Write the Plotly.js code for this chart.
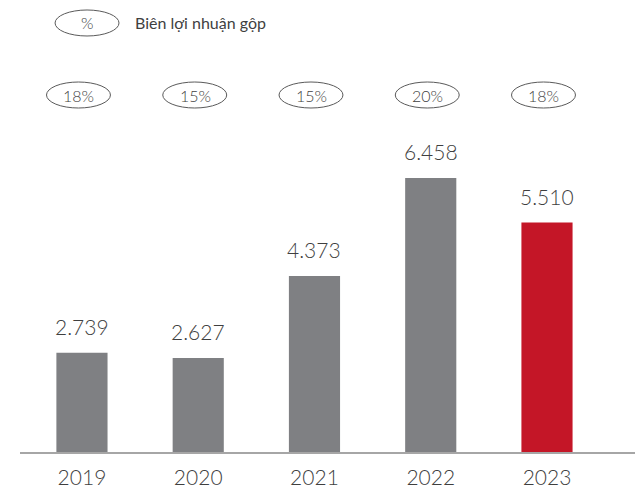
<!DOCTYPE html>
<html>
<head>
<meta charset="utf-8">
<script src="https://cdn.plot.ly/plotly-3.0.1.min.js"></script>
<style>
  html, body { margin: 0; padding: 0; background: #fff; }
  #chart { width: 635px; height: 489px; }
</style>
</head>
<body>
<div id="chart"></div>
<script>
// data
var years = ["2019", "2020", "2021", "2022", "2023"];
var grossProfit = [2739, 2627, 4373, 6458, 5510];
var valueLabels = ["2.739", "2.627", "4.373", "6.458", "5.510"];
var marginLabels = ["18%", "15%", "15%", "20%", "18%"];
var barColors = ["#7f8083", "#7f8083", "#7f8083", "#7f8083", "#c41627"];

var textColor = "#3f3f3f";
var font = "Lato, Open Sans, sans-serif";

var trace = {
  x: years,
  y: grossProfit,
  type: "bar",
  width: 0.44,
  marker: {color: barColors},
  hoverinfo: "none"
};

var annotations = [];
var shapes = [];

// value labels above the bars (x as category index)
years.forEach(function (yr, i) {
  annotations.push({
    x: i, y: grossProfit[i], xref: "x", yref: "y",
    text: valueLabels[i], showarrow: false,
    xanchor: "center", yanchor: "bottom", yshift: 12,
    font: {family: font, size: 21, weight: 300, color: textColor}
  });
});

// gross margin bubbles
var bubbleY = 0.9107;
years.forEach(function (yr, i) {
  shapes.push({
    type: "circle", xref: "x", yref: "paper",
    x0: i - 0.305, x1: i + 0.245,
    ysizemode: "pixel", yanchor: bubbleY, y0: -13, y1: 13,
    line: {color: "#5a5a5a", width: 1}
  });
  annotations.push({
    x: i, y: bubbleY, xref: "x", yref: "paper",
    xanchor: "center", yanchor: "middle",
    text: marginLabels[i], showarrow: false, xshift: -3,
    font: {family: font, size: 16, weight: 300, color: textColor}
  });
});

// legend bubble
var legendY = 1.0944;
shapes.push({
  type: "circle", xref: "paper", yref: "paper",
  x0: 0.057, x1: 0.161,
  ysizemode: "pixel", yanchor: legendY, y0: -13, y1: 13,
  line: {color: "#5a5a5a", width: 1}
});
annotations.push({
  x: 0.109, y: legendY, xref: "paper", yref: "paper",
  xanchor: "center", yanchor: "middle",
  text: "%", showarrow: false,
  font: {family: font, size: 16, weight: 300, color: textColor}
});
annotations.push({
  x: 0.184, y: legendY, xref: "paper", yref: "paper",
  xanchor: "left", yanchor: "middle",
  text: "Biên lợi nhuận gộp", showarrow: false,
  font: {family: font, size: 16, color: textColor}
});

var layout = {
  width: 635,
  height: 489,
  margin: {l: 20, r: 0, t: 60, b: 37},
  paper_bgcolor: "#ffffff",
  plot_bgcolor: "#ffffff",
  showlegend: false,
  xaxis: {
    type: "category",
    range: [-0.533, 4.757],
    showline: true,
    linecolor: "#a6a6a6",
    linewidth: 1.5,
    ticks: "",
    showgrid: false,
    zeroline: false,
    tickfont: {family: font, size: 21, weight: 300, color: textColor},
    ticklabelstandoff: 6
  },
  yaxis: {
    range: [625, 8969],
    visible: false,
    showgrid: false,
    zeroline: false
  },
  shapes: shapes,
  annotations: annotations
};

Plotly.newPlot("chart", [trace], layout, {displayModeBar: false, staticPlot: true});
</script>
</body>
</html>
